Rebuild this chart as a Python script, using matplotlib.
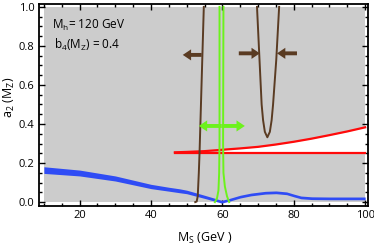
import matplotlib
matplotlib.use('Agg')
import matplotlib.pyplot as plt
import numpy as np
from matplotlib.patches import FancyArrowPatch
from matplotlib.ticker import MultipleLocator

plt.rcParams['font.family'] = ['Open Sans', 'DejaVu Sans']
plt.rcParams['mathtext.fontset'] = 'custom'
plt.rcParams['mathtext.rm'] = 'Open Sans'
plt.rcParams['mathtext.it'] = 'Open Sans'

# blue band (centre and half width)
blue_x = [10, 20, 30, 40, 45, 48, 50, 55, 59.8, 62, 65, 68, 72, 75, 78, 80, 82, 85, 90, 100]
blue_y = [0.164, 0.149, 0.121, 0.080, 0.066, 0.058, 0.052, 0.027, 0.002, 0.012, 0.028,
          0.039, 0.048, 0.050, 0.045, 0.034, 0.024, 0.020, 0.019, 0.019]
blue_w = [0.017, 0.015, 0.013, 0.011, 0.010, 0.010, 0.009, 0.008, 0.007, 0.007, 0.007,
          0.007, 0.007, 0.007, 0.007, 0.007, 0.007, 0.007, 0.007, 0.007]

# red lines
red_x = [46.7, 50, 55, 60, 65, 70, 75, 80, 85, 90, 95, 100]
red_upper = [0.255, 0.257, 0.261, 0.268, 0.275, 0.283, 0.295, 0.309, 0.325, 0.343, 0.362, 0.383]
red_lower = 0.253

# green lines
green_left_x = [59.2, 59.2, 59.1, 58.9, 58.5, 57.9]
green_left_y = [1.0, 0.3, 0.15, 0.06, 0.02, 0.0]
green_right_x = [60.3, 60.2, 60.3, 60.7, 61.3, 61.9]
green_right_y = [1.0, 0.3, 0.15, 0.08, 0.03, 0.0]

# brown curves
brown1_x = [54.8, 54.4, 54.0, 53.6, 53.4, 53.1, 52.8, 52.4]
brown1_y = [1.0, 0.75, 0.5, 0.25, 0.15, 0.03, 0.003, 0.0]
brown2_x = [69.7, 70.4, 71.0, 71.4, 71.9, 72.6, 73.3, 73.8, 74.2, 75.1, 75.9]
brown2_y = [1.0, 0.73, 0.5, 0.42, 0.36, 0.332, 0.36, 0.42, 0.5, 0.73, 1.0]

gray = '#cccccc'
blue = '#2f4cf5'
red = '#ff0a0a'
green = '#6cf21c'
brown = '#5a3b22'

fig = plt.figure(figsize=(3.74, 2.47), dpi=100)
ax = fig.add_axes([0.104, 0.166, 0.880, 0.818])

ax.fill_between([10, 100], 0, 1.0, color=gray, lw=0, zorder=0)
rx = np.array(red_x)
ru = np.array(red_upper)
mask = rx >= 60.4
ax.fill_between(np.concatenate([[60.4], rx[mask]]),
                red_lower, np.concatenate([[np.interp(60.4, rx, ru)], ru[mask]]),
                color='white', lw=0, zorder=1)

bx = np.array(blue_x)
by = np.array(blue_y)
bw = np.array(blue_w)
ax.fill_between(bx, by - bw, by + bw, color=blue, lw=0, zorder=2)

ax.plot(red_x, red_upper, color=red, lw=1.6, zorder=3)
ax.plot([red_x[0], red_x[-1]], [red_lower, red_lower], color=red, lw=1.6, zorder=3)

ax.plot(green_left_x, green_left_y, color=green, lw=1.4, zorder=4)
ax.plot(green_right_x, green_right_y, color=green, lw=1.4, zorder=4)

ax.plot(brown1_x, brown1_y, color=brown, lw=1.4, zorder=5)
ax.plot(brown2_x, brown2_y, color=brown, lw=1.4, zorder=5)


def arrow(x0, x1, y, color):
    a = FancyArrowPatch((x0, y), (x1, y),
                        arrowstyle='simple,head_length=6,head_width=8,tail_width=2.8',
                        mutation_scale=1, color=color, lw=0, shrinkA=0, shrinkB=0, zorder=6)
    ax.add_patch(a)


arrow(54.2, 48.9, 0.754, brown)
arrow(64.6, 70.5, 0.762, brown)
arrow(80.9, 75.3, 0.762, brown)
arrow(59.8, 53.4, 0.39, green)
arrow(59.8, 66.3, 0.39, green)

ax.text(12.3, 0.905, r'$\mathrm{M_h}$= 120 GeV', fontsize=8.5, va='center', ha='left')
ax.text(12.8, 0.805, r'$\mathrm{b_4(M_Z)}$ = 0.4', fontsize=8.5, va='center', ha='left')

ax.set_xlim(8.6, 100.8)
ax.set_ylim(-0.02, 1.015)
ax.xaxis.set_major_locator(MultipleLocator(20))
ax.xaxis.set_minor_locator(MultipleLocator(5))
ax.yaxis.set_major_locator(MultipleLocator(0.2))
ax.yaxis.set_minor_locator(MultipleLocator(0.05))
ax.set_xticks([20, 40, 60, 80, 100])
ax.set_yticks([0.0, 0.2, 0.4, 0.6, 0.8, 1.0])
ax.set_yticklabels(['0.0', '0.2', '0.4', '0.6', '0.8', '1.0'])
ax.tick_params(which='both', direction='in', top=True, right=True, labelsize=8, width=1, pad=3)
ax.tick_params(which='major', length=4)
ax.tick_params(which='minor', length=2.5)
for s in ax.spines.values():
    s.set_linewidth(1.3)

ax.set_xlabel(r'$\mathrm{M_S}$ (GeV )', fontsize=9)
ax.set_ylabel(r'$\mathrm{a_2}$ ($\mathrm{M_Z}$)', fontsize=9)
ax.xaxis.set_label_coords(0.503, -0.125)
ax.yaxis.set_label_coords(-0.068, 0.54)

fig.savefig('out.png', dpi=100)
